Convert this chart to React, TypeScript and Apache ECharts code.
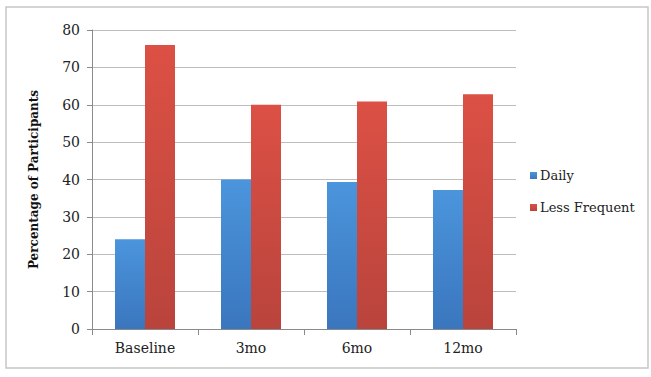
import React, { useEffect, useRef } from "react";
import * as echarts from "echarts";

const categories = ["Baseline", "3mo", "6mo", "12mo"];
const dailyValues = [24, 40, 39.3, 37.2];
const lessFrequentValues = [76, 60, 60.9, 62.8];
const seriesNames = ["Daily", "Less Frequent"];

export default function App() {
  const ref = useRef<HTMLDivElement>(null);
  useEffect(() => {
    if (!ref.current) return;
    const chart = echarts.init(ref.current, undefined, { renderer: "svg" });
    const font = "DejaVu Serif";
    chart.setOption({
      animation: false,
      backgroundColor: "#ffffff",
      textStyle: { fontFamily: font },
      graphic: [
        {
          type: "rect",
          shape: { x: 6, y: 7, width: 642, height: 361 },
          style: { fill: "none", stroke: "#c6c6c6", lineWidth: 1.5 },
          silent: true,
        },
      ],
      grid: { left: 92, top: 30, right: 135, bottom: 48, containLabel: false },
      legend: {
        orient: "vertical",
        left: 525,
        top: 164,
        itemWidth: 7,
        itemHeight: 7,
        itemGap: 19,
        icon: "rect",
        textStyle: { fontFamily: font, fontSize: 13, color: "#222", padding: [0, 0, 0, -2] },
        data: seriesNames,
      },
      xAxis: {
        type: "category",
        data: categories,
        boundaryGap: true,
        axisLine: { lineStyle: { color: "#8a8a8a", width: 1 } },
        axisTick: { show: true, length: 6, lineStyle: { color: "#8a8a8a" } },
        axisLabel: { fontFamily: font, fontSize: 14, color: "#222", margin: 12 },
      },
      yAxis: {
        type: "value",
        min: 0,
        max: 80,
        interval: 10,
        name: "Percentage of Participants",
        nameLocation: "middle",
        nameGap: 52,
        nameTextStyle: { fontFamily: font, fontSize: 12, fontWeight: "bold", color: "#111" },
        axisLine: { show: true, lineStyle: { color: "#8a8a8a" } },
        axisTick: { show: true, length: 5, lineStyle: { color: "#8a8a8a" } },
        axisLabel: { fontFamily: font, fontSize: 14, color: "#222", margin: 12 },
        splitLine: { lineStyle: { color: "#bdbdbd", width: 1 } },
      },
      series: [
        {
          name: seriesNames[0],
          type: "bar",
          data: dailyValues,
          barWidth: 30,
          barGap: "0%",
          itemStyle: {
            color: new echarts.graphic.LinearGradient(0, 0, 0, 1, [
              { offset: 0, color: "#4b95dc" },
              { offset: 1, color: "#3a76be" },
            ]),
          },
        },
        {
          name: seriesNames[1],
          type: "bar",
          data: lessFrequentValues,
          barWidth: 30,
          barGap: "0%",
          itemStyle: {
            color: new echarts.graphic.LinearGradient(0, 0, 0, 1, [
              { offset: 0, color: "#dc5045" },
              { offset: 1, color: "#b9443c" },
            ]),
          },
        },
      ],
    });
    return () => chart.dispose();
  }, []);
  return (
    <div
      ref={ref}
      style={{ position: "fixed", left: 0, top: 0, width: 651, height: 377 }}
    />
  );
}
